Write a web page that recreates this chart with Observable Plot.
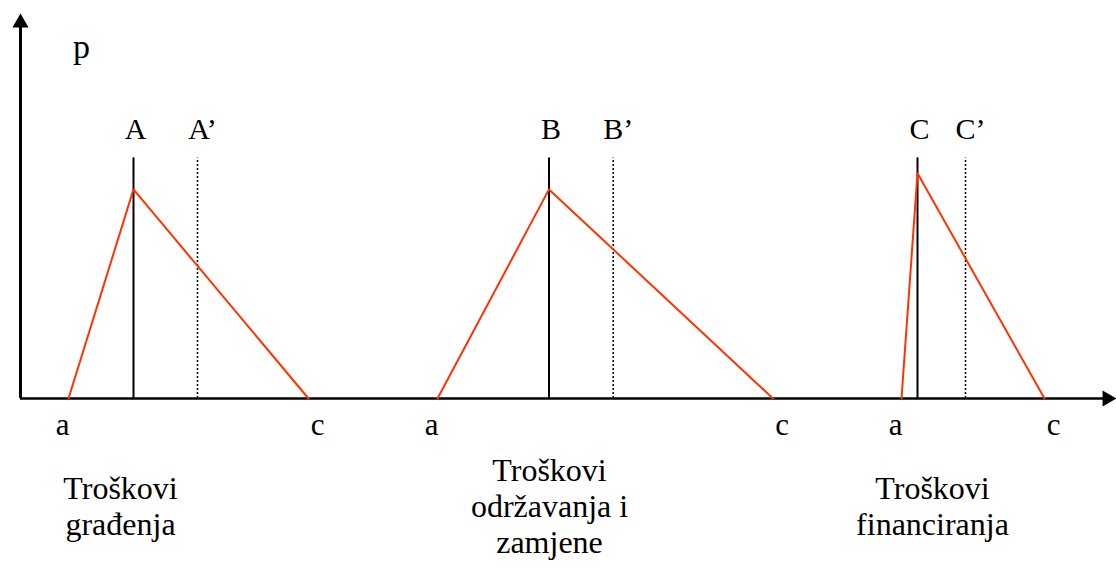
<!DOCTYPE html>
<html>
<head>
<meta charset="utf-8">
<script src="https://cdn.jsdelivr.net/npm/d3@7"></script>
<script src="https://cdn.jsdelivr.net/npm/@observablehq/plot@0.6"></script>
<style>
  html, body { margin: 0; padding: 0; background: #fff; }
  #chart svg { display: block; }
</style>
</head>
<body>
<div id="chart"></div>
<script>
// ---- data (cost units along x, relative probability p along y) ----
const groups      = ["Troškovi\ngrađenja", "Troškovi\nodržavanja i\nzamjene", "Troškovi\nfinanciranja"];
const titleVals   = [100, 529, 912];       // where each category title sits on the cost axis
const lowVals     = [48, 417, 881];        // a
const modeVals    = [113, 528.5, 897];     // A, B, C
const highVals    = [288, 752.5, 1024];    // c
const primeVals   = [177, 592.7, 945];     // A', B', C'
const peakVals    = [0.869, 0.869, 0.936];
const modeLabels  = ["A", "B", "C"];
const primeLabels = ["A’", "B’", "C’"];
const lowLabel = "a", highLabel = "c";
const yLabel = "p";
const xMax = 1096, yMax = 1.6, ruleTop = 1;

// ---- derived tables ----
const tri = groups.flatMap((g, i) => [
  {g, x: lowVals[i], y: 0},
  {g, x: modeVals[i], y: peakVals[i]},
  {g, x: highVals[i], y: 0}
]);
const idx = groups.map((_, i) => i);

const font = "Liberation Serif, Times New Roman, serif";

const chart = Plot.plot({
  width: 1116,
  height: 572,
  marginTop: 0, marginRight: 0, marginBottom: 0, marginLeft: 0,
  x: {domain: [0, xMax], range: [20, 1116], axis: null},
  y: {domain: [0, yMax], range: [398, 13], axis: null},
  style: {fontFamily: font, background: "#fff", color: "#000"},
  marks: [
    // axes
    Plot.ruleY([0], {x1: 0, x2: xMax - 6, stroke: "#000", strokeWidth: 2.5}),
    Plot.ruleX([0], {y1: 0, y2: yMax - 0.03, stroke: "#000", strokeWidth: 3}),
    Plot.dot([{x: 0, y: yMax}], {x: "x", y: "y", symbol: "triangle", r: 6, fill: "#000", stroke: null, dy: 9.3}),
    Plot.dot([{x: xMax, y: 0}], {x: "x", y: "y", symbol: "triangle", r: 6, fill: "#000", stroke: null, rotate: 90, dx: -9.3}),
    // mode (solid) and alternative (dotted) verticals
    Plot.ruleX(idx, {x: i => modeVals[i], y1: 0, y2: ruleTop, stroke: "#000", strokeWidth: 2}),
    Plot.ruleX(idx, {x: i => primeVals[i], y1: 0, y2: ruleTop, stroke: "#000", strokeWidth: 1.5, strokeDasharray: "2,2"}),
    // triangular distributions
    Plot.line(tri, {x: "x", y: "y", z: "g", stroke: "#ff3300", strokeWidth: 2}),
    // labels A, B, C and primes
    Plot.text(idx, {x: i => modeVals[i], y: ruleTop, text: i => modeLabels[i], lineAnchor: "bottom", dy: -19, dx: 2, fontSize: 30, fontFamily: font}),
    Plot.text(idx, {x: i => primeVals[i], y: ruleTop, text: i => primeLabels[i], lineAnchor: "bottom", dy: -19, dx: 5, fontSize: 30, fontFamily: font}),
    // a and c labels
    Plot.text(idx, {x: i => lowVals[i], y: 0, text: () => lowLabel, lineAnchor: "top", dy: 14, dx: -6, fontSize: 31, fontFamily: font}),
    Plot.text(idx, {x: i => highVals[i], y: 0, text: () => highLabel, lineAnchor: "top", dy: 14, dx: 9, fontSize: 31, fontFamily: font}),
    // category titles
    Plot.text(idx, {x: i => titleVals[i], y: 0, text: i => groups[i], lineAnchor: "middle", dy: 107, fontSize: 32, lineHeight: 1.12, fontFamily: font}),
    // y label
    Plot.text([yLabel], {frameAnchor: "top-left", textAnchor: "middle", lineAnchor: "top", dx: 81, dy: 33, fontSize: 34, fontFamily: font})
  ]
});
document.getElementById("chart").appendChild(chart);
</script>
</body>
</html>
